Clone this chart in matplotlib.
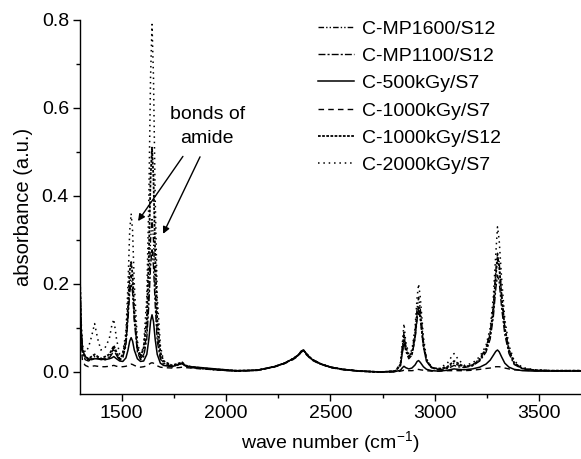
import matplotlib
matplotlib.use("Agg")
import matplotlib.pyplot as plt
from matplotlib.ticker import MultipleLocator

plt.rcParams['font.family'] = ['Liberation Sans', 'DejaVu Sans']
plt.rcParams['mathtext.fontset'] = 'custom'
plt.rcParams['mathtext.rm'] = 'Liberation Sans'
plt.rcParams['mathtext.it'] = 'Liberation Sans:italic'

# wave numbers (cm-1)
wavenumber = [1300, 1305, 1312, 1325, 1340, 1355, 1370, 1385, 1400, 1420, 1440, 1452, 1462, 1475, 1490,
              1505, 1520, 1530, 1538, 1545, 1552, 1560, 1575, 1590, 1605, 1620, 1630, 1638, 1645, 1652, 1660, 1670, 1685, 1700,
              1740, 1775, 1790, 1805, 1830, 1880, 1950, 2050, 2150, 2230, 2280, 2320, 2345, 2360, 2370, 2385, 2410, 2450, 2500, 2560, 2640, 2740,
              2810, 2835, 2845, 2852, 2860, 2875, 2890, 2905, 2915, 2922, 2930, 2945, 2960, 2985, 3020, 3060, 3080, 3092, 3110, 3140,
              3180, 3215, 3245, 3265, 3280, 3292, 3300, 3308, 3320, 3335, 3355, 3380, 3420, 3480, 3560, 3640, 3700]

mp1600_s12 = [0.19, 0.09, 0.045, 0.03, 0.028, 0.03, 0.035, 0.033, 0.03, 0.03, 0.035, 0.045, 0.055, 0.04, 0.028,
              0.035, 0.065, 0.13, 0.20, 0.22, 0.195, 0.125, 0.05, 0.03, 0.04, 0.09, 0.19, 0.30, 0.35, 0.30, 0.19, 0.085, 0.035, 0.02,
              0.013, 0.018, 0.02, 0.014, 0.011, 0.008, 0.005, 0.002, 0.004, 0.012, 0.02, 0.03, 0.038, 0.047, 0.05, 0.041, 0.029, 0.019, 0.011, 0.006, 0.002, 0.0,
              0.002, 0.018, 0.06, 0.09, 0.06, 0.035, 0.045, 0.09, 0.145, 0.17, 0.145, 0.07, 0.028, 0.01, 0.006, 0.01, 0.016, 0.02, 0.016, 0.012,
              0.016, 0.03, 0.055, 0.09, 0.15, 0.23, 0.27, 0.25, 0.175, 0.10, 0.05, 0.02, 0.008, 0.004, 0.003, 0.003, 0.003]

mp1100_s12 = [0.18, 0.085, 0.04, 0.028, 0.025, 0.028, 0.032, 0.03, 0.028, 0.028, 0.032, 0.04, 0.05, 0.038, 0.026,
              0.033, 0.06, 0.12, 0.18, 0.20, 0.18, 0.115, 0.045, 0.028, 0.035, 0.075, 0.155, 0.24, 0.28, 0.24, 0.155, 0.07, 0.03, 0.018,
              0.012, 0.017, 0.019, 0.013, 0.01, 0.008, 0.005, 0.002, 0.004, 0.012, 0.02, 0.03, 0.038, 0.047, 0.05, 0.041, 0.029, 0.019, 0.011, 0.006, 0.002, 0.0,
              0.002, 0.015, 0.045, 0.07, 0.048, 0.03, 0.038, 0.075, 0.12, 0.14, 0.12, 0.058, 0.024, 0.009, 0.005, 0.008, 0.012, 0.015, 0.012, 0.01,
              0.014, 0.025, 0.045, 0.075, 0.125, 0.19, 0.22, 0.205, 0.145, 0.085, 0.042, 0.017, 0.007, 0.004, 0.003, 0.003, 0.003]

kgy500_s7 = [0.21, 0.10, 0.05, 0.035, 0.03, 0.028, 0.03, 0.03, 0.03, 0.028, 0.03, 0.032, 0.035, 0.03, 0.025,
             0.024, 0.032, 0.05, 0.07, 0.078, 0.07, 0.05, 0.03, 0.024, 0.025, 0.04, 0.075, 0.115, 0.13, 0.115, 0.075, 0.04, 0.02, 0.015,
             0.012, 0.018, 0.02, 0.014, 0.012, 0.01, 0.007, 0.003, 0.004, 0.012, 0.02, 0.03, 0.038, 0.047, 0.05, 0.041, 0.029, 0.019, 0.011, 0.006, 0.002, 0.0,
             0.001, 0.004, 0.01, 0.013, 0.01, 0.007, 0.009, 0.016, 0.024, 0.026, 0.022, 0.012, 0.006, 0.003, 0.002, 0.004, 0.006, 0.007, 0.006, 0.005,
             0.007, 0.011, 0.018, 0.027, 0.038, 0.047, 0.05, 0.046, 0.034, 0.02, 0.011, 0.006, 0.003, 0.002, 0.002, 0.002, 0.002]

kgy1000_s7 = [0.15, 0.06, 0.025, 0.015, 0.012, 0.013, 0.014, 0.013, 0.012, 0.012, 0.013, 0.014, 0.015, 0.013, 0.012,
              0.012, 0.013, 0.015, 0.017, 0.018, 0.017, 0.015, 0.012, 0.011, 0.012, 0.014, 0.017, 0.02, 0.021, 0.02, 0.017, 0.014, 0.011, 0.01,
              0.009, 0.01, 0.011, 0.01, 0.009, 0.007, 0.005, 0.002, 0.004, 0.011, 0.019, 0.028, 0.036, 0.045, 0.048, 0.039, 0.027, 0.018, 0.01, 0.005, 0.002, 0.0,
              0.0, 0.002, 0.003, 0.004, 0.003, 0.003, 0.003, 0.004, 0.005, 0.006, 0.005, 0.004, 0.003, 0.002, 0.002, 0.003, 0.003, 0.004, 0.003, 0.003,
              0.004, 0.006, 0.008, 0.009, 0.011, 0.012, 0.012, 0.012, 0.011, 0.009, 0.007, 0.005, 0.004, 0.003, 0.003, 0.003, 0.003]

kgy1000_s12 = [0.21, 0.10, 0.05, 0.035, 0.03, 0.035, 0.04, 0.035, 0.03, 0.035, 0.04, 0.05, 0.06, 0.045, 0.03,
               0.04, 0.075, 0.15, 0.23, 0.25, 0.22, 0.14, 0.055, 0.035, 0.055, 0.12, 0.27, 0.44, 0.51, 0.44, 0.27, 0.12, 0.045, 0.025,
               0.015, 0.02, 0.022, 0.015, 0.012, 0.009, 0.006, 0.003, 0.004, 0.012, 0.02, 0.03, 0.038, 0.047, 0.05, 0.041, 0.029, 0.019, 0.011, 0.006, 0.002, 0.0,
               0.002, 0.015, 0.05, 0.08, 0.055, 0.035, 0.04, 0.08, 0.13, 0.15, 0.13, 0.06, 0.025, 0.01, 0.007, 0.012, 0.02, 0.025, 0.02, 0.012,
               0.015, 0.028, 0.05, 0.085, 0.14, 0.22, 0.26, 0.24, 0.17, 0.10, 0.05, 0.02, 0.008, 0.004, 0.003, 0.003, 0.003]

kgy2000_s7 = [0.23, 0.12, 0.06, 0.045, 0.055, 0.08, 0.11, 0.075, 0.05, 0.055, 0.075, 0.105, 0.12, 0.075, 0.04,
              0.045, 0.09, 0.20, 0.32, 0.36, 0.32, 0.20, 0.07, 0.035, 0.06, 0.17, 0.40, 0.67, 0.79, 0.67, 0.40, 0.17, 0.06, 0.025,
              0.012, 0.016, 0.02, 0.014, 0.011, 0.008, 0.005, 0.002, 0.004, 0.012, 0.02, 0.03, 0.038, 0.047, 0.05, 0.041, 0.029, 0.019, 0.011, 0.006, 0.002, 0.0,
              0.002, 0.02, 0.07, 0.11, 0.07, 0.04, 0.05, 0.10, 0.17, 0.20, 0.17, 0.08, 0.03, 0.01, 0.008, 0.02, 0.035, 0.042, 0.03, 0.015,
              0.02, 0.035, 0.06, 0.10, 0.17, 0.27, 0.33, 0.30, 0.21, 0.12, 0.06, 0.025, 0.01, 0.005, 0.003, 0.003, 0.003]

labels = ['C-MP1600/S12', 'C-MP1100/S12', 'C-500kGy/S7', 'C-1000kGy/S7', 'C-1000kGy/S12', 'C-2000kGy/S7']
series = [mp1600_s12, mp1100_s12, kgy500_s7, kgy1000_s7, kgy1000_s12, kgy2000_s7]
styles = [(0, (4, 1.5, 1, 1.5, 1, 1.5)), (0, (5, 1.5, 1.5, 1.5)), '-', (0, (4, 3)), (0, (1.5, 0.8)), (0, (1, 2.5))]
widths = [1.0, 1.0, 1.1, 1.0, 1.3, 1.1]

fig = plt.figure(figsize=(5.81, 4.59), dpi=100)
ax = fig.add_axes([80/581, 1 - 394/459, (581 - 80)/581, (394 - 20)/459])

for y, lab, ls, lw in zip(series, labels, styles, widths):
    ax.plot(wavenumber, y, color='black', linestyle=ls, linewidth=lw, label=lab)

ax.set_xlim(1300, 3700)
ax.set_ylim(-0.05, 0.8)
ax.xaxis.set_major_locator(MultipleLocator(500))
ax.xaxis.set_minor_locator(MultipleLocator(250))
ax.yaxis.set_major_locator(MultipleLocator(0.2))
ax.yaxis.set_minor_locator(MultipleLocator(0.1))
ax.tick_params(which='major', direction='out', length=5, width=1, labelsize=14, pad=3)
ax.tick_params(which='minor', direction='out', length=3, width=1)
ax.spines['top'].set_visible(False)
ax.spines['right'].set_visible(False)
for s in ['left', 'bottom']:
    ax.spines[s].set_linewidth(1.0)

ax.set_xlabel('wave number (cm$^{-1}$)', fontsize=14, labelpad=5)
ax.set_ylabel('absorbance (a.u.)', fontsize=14.5, labelpad=6)

ax.text(1910, 0.558, 'bonds of\namide', ha='center', va='center', fontsize=14, linespacing=1.55)
arrow = dict(arrowstyle='-|>', color='black', lw=1.0, mutation_scale=10, shrinkA=0, shrinkB=0)
ax.annotate('', xy=(1578, 0.343), xytext=(1793, 0.49), arrowprops=arrow)
ax.annotate('', xy=(1698, 0.314), xytext=(1875, 0.489), arrowprops=arrow)

leg = ax.legend(loc='upper left', bbox_to_anchor=(318/581, 1 - 20/459), bbox_transform=fig.transFigure,
                frameon=False, fontsize=14, handlelength=1.85, handletextpad=0.4,
                labelspacing=0.5, borderpad=0, borderaxespad=0)

fig.savefig('out.png', dpi=100)
